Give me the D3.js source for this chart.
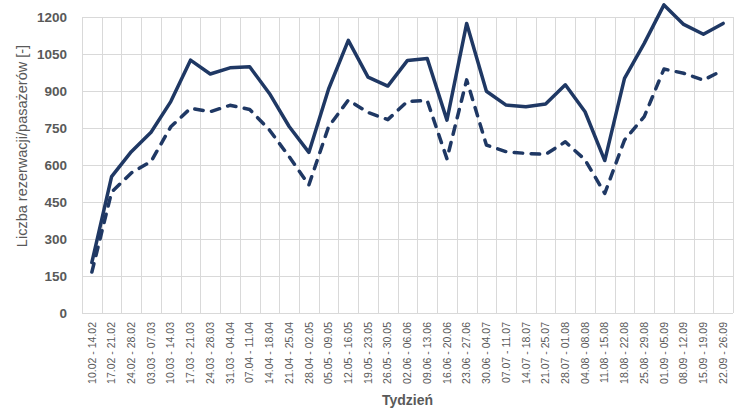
<!DOCTYPE html>
<html>
<head>
<meta charset="utf-8">
<script src="https://cdn.jsdelivr.net/npm/d3@7"></script>
<style>
  body { margin: 0; background: #fff; }
  text { font-family: "Liberation Sans", Arial, sans-serif; fill: #595959; }
</style>
</head>
<body>
<svg id="chart" width="744" height="418"></svg>
<script>
const weeks = [
  '10.02 - 14.02', '17.02 - 21.02', '24.02 - 28.02', '03.03 - 07.03', '10.03 - 14.03',
  '17.03 - 21.03', '24.03 - 28.03', '31.03 - 04.04', '07.04 - 11.04', '14.04 - 18.04',
  '21.04 - 25.04', '28.04 - 02.05', '05.05 - 09.05', '12.05 - 16.05', '19.05 - 23.05',
  '26.05 - 30.05', '02.06 - 06.06', '09.06 - 13.06', '16.06 - 20.06', '23.06 - 27.06',
  '30.06 - 04.07', '07.07 - 11.07', '14.07 - 18.07', '21.07 - 25.07', '28.07 - 01.08',
  '04.08 - 08.08', '11.08 - 15.08', '18.08 - 22.08', '25.08 - 29.08', '01.09 - 05.09',
  '08.09 - 12.09', '15.09 - 19.09', '22.09 - 26.09'
]

// liczba rezerwacji (linia ciągła)
const reservations = [
  205, 553, 654, 733, 857, 1025, 969, 994, 998, 890,
  756, 651, 908, 1105, 956, 920, 1024, 1032, 782, 1174,
  899, 843, 836, 847, 925, 816, 618, 951, 1093, 1249,
  1170, 1130, 1174
]

// liczba pasażerów (linia przerywana)
const passengers = [
  166, 490, 568, 614, 755, 830, 816, 842, 825, 742,
  634, 519, 755, 863, 813, 784, 858, 861, 625, 945,
  681, 654, 647, 643, 694, 621, 485, 701, 796, 989,
  972, 944, 985
]

const yTicks = [0, 150, 300, 450, 600, 750, 900, 1050, 1200]

const margin = { top: 17, right: 11, bottom: 105, left: 82 }
const width = 744, height = 418
const svg = d3.select('svg#chart')

const x = d3.scaleBand()
  .domain(weeks)
  .range([margin.left, width - margin.right])

const y = d3.scaleLinear()
  .domain([0, 1200])
  .range([height - margin.bottom, margin.top])

// siatka
const grid = svg.append('g').attr('stroke', '#d9d9d9').attr('stroke-width', 1)
grid.selectAll('line.h')
  .data(yTicks)
  .enter()
  .append('line')
  .attr('x1', margin.left)
  .attr('x2', width - margin.right)
  .attr('y1', d => Math.round(y(d)) + 0.5)
  .attr('y2', d => Math.round(y(d)) + 0.5)

const bounds = weeks.map(w => x(w)).concat([x.range()[1]])
grid.selectAll('line.v')
  .data(bounds)
  .enter()
  .append('line')
  .attr('x1', d => Math.round(d) + 0.5)
  .attr('x2', d => Math.round(d) + 0.5)
  .attr('y1', y(1200))
  .attr('y2', y(0))

// osie
const yAxis = svg.append('g')
  .attr('transform', `translate(${margin.left - 15},0)`)
  .call(d3.axisLeft(y).tickValues(yTicks).tickFormat(d3.format('d')).tickSize(0).tickPadding(0))
yAxis.select('.domain').remove()
yAxis.selectAll('text')
  .attr('font-size', 13.5)
  .attr('font-weight', 'bold')
  .attr('fill', '#595959')

const xAxis = svg.append('g')
  .attr('transform', `translate(0,${y(0)})`)
  .call(d3.axisBottom(x).tickSize(0).tickPadding(0))
xAxis.select('.domain').remove()
xAxis.selectAll('text')
  .attr('font-size', 10.5)
  .attr('fill', '#595959')
  .attr('transform', 'rotate(-90)')
  .attr('text-anchor', 'end')
  .attr('x', -9)
  .attr('y', 0)
  .attr('dy', '0.35em')

// linie
const line = d3.line()
  .x((d, i) => x(weeks[i]) + x.bandwidth() / 2)
  .y(d => y(d))

svg.append('path')
  .datum(reservations)
  .attr('d', line)
  .attr('fill', 'none')
  .attr('stroke', '#1f3864')
  .attr('stroke-width', 3.5)
  .attr('stroke-linejoin', 'round')
  .attr('stroke-linecap', 'round')

svg.append('path')
  .datum(passengers)
  .attr('d', line)
  .attr('fill', 'none')
  .attr('stroke', '#1f3864')
  .attr('stroke-width', 3.5)
  .attr('stroke-linejoin', 'round')
  .attr('stroke-linecap', 'round')
  .attr('stroke-dasharray', '8.5,8.5')

// tytuły osi
svg.append('text')
  .attr('x', (margin.left + width - margin.right) / 2)
  .attr('y', 405)
  .attr('text-anchor', 'middle')
  .attr('font-size', 14)
  .attr('font-weight', 'bold')
  .text('Tydzień')

svg.append('text')
  .attr('transform', 'translate(27,146) rotate(-90)')
  .attr('text-anchor', 'middle')
  .attr('font-size', 14.5)
  .text('Liczba rezerwacji/pasażerów [-]')
</script>
</body>
</html>
